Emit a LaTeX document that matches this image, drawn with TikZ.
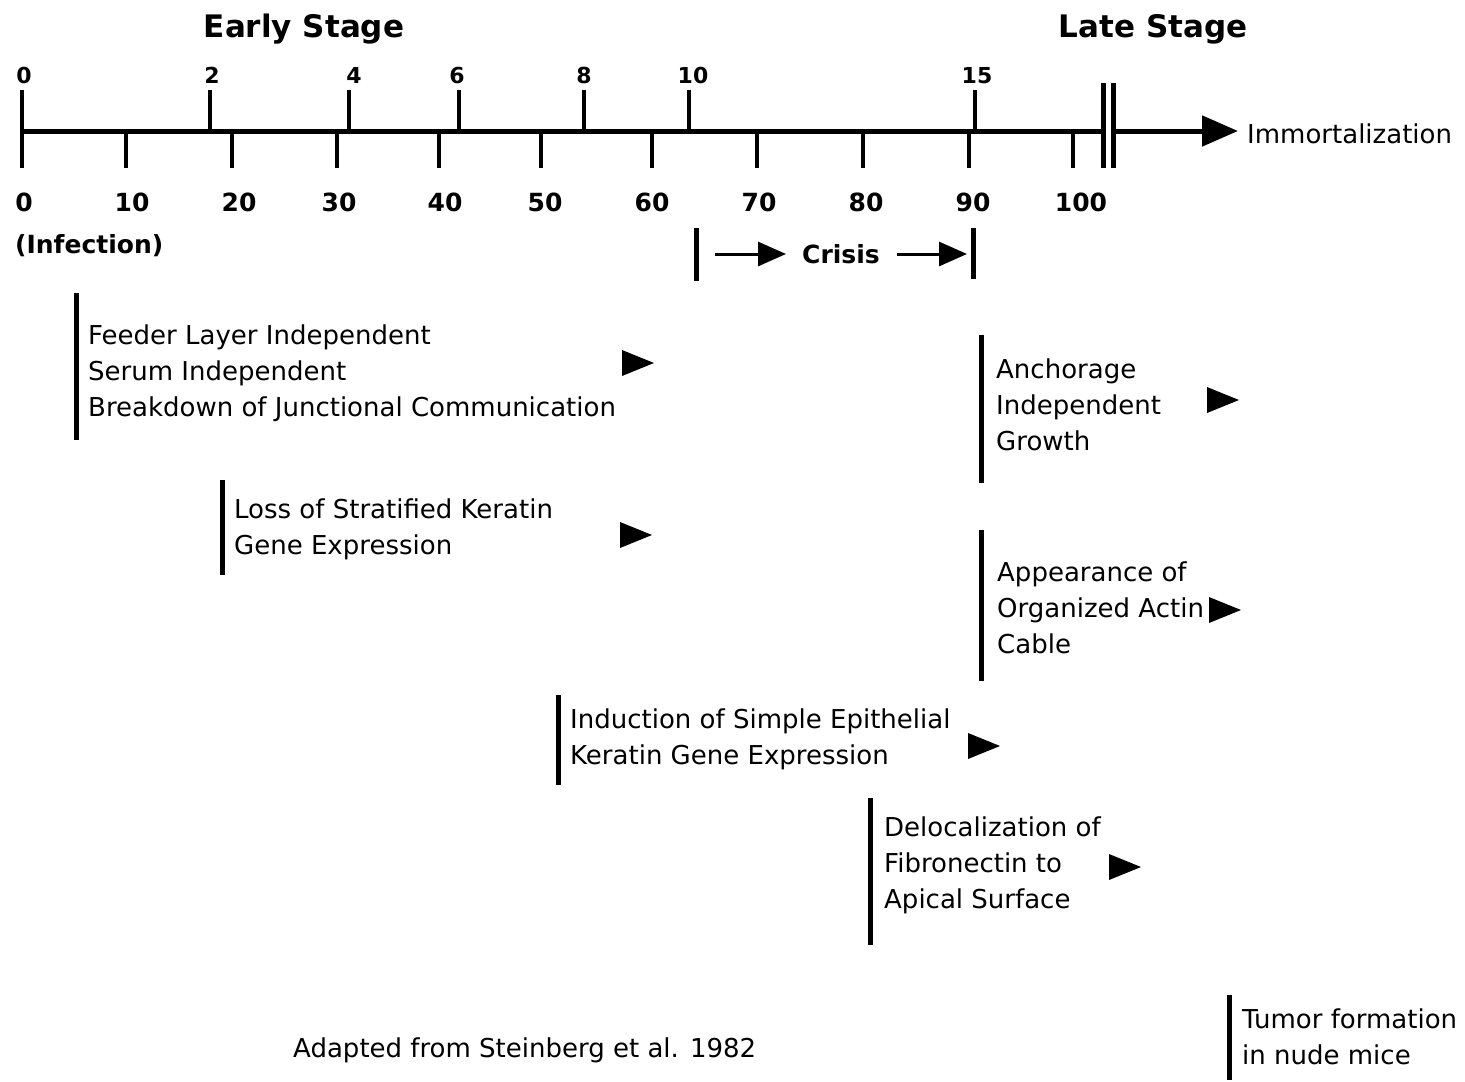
\documentclass[tikz,border=0pt]{standalone}
\usepackage{fontspec}
\setmainfont{DejaVu Sans}
\usetikzlibrary{arrows.meta}
\begin{document}
\begin{tikzpicture}[x=1pt,y=-1pt,
  bar/.style={line width=5pt},
  tickline/.style={line width=3.5pt},
  axisline/.style={line width=5pt},
  body/.style={anchor=west, align=left, inner sep=0pt, font=\fontsize{26}{36}\selectfont},
  toplab/.style={anchor=base, inner sep=0pt, font=\fontsize{22}{26}\selectfont\bfseries},
  botlab/.style={anchor=base, inner sep=0pt, font=\fontsize{25}{30}\selectfont\bfseries},
  stagelab/.style={anchor=base, inner sep=0pt, font=\fontsize{31}{36}\selectfont\bfseries},
  crisarrow/.style={line width=3pt, -{Triangle[length=28pt,width=24pt]}},
  tri/.style={fill=black},
]
\useasboundingbox (0,0) rectangle (1465,1082);

% stage titles
\node[stagelab] (early) at (304,37) {Early Stage};
\node[stagelab] (late) at (1153,37) {Late Stage};

% axis
\coordinate (a0) at (22,131);
\coordinate (brkA) at (1103,131);
\coordinate (brkB) at (1113,131);
\coordinate (tip) at (1238,131);
\draw[axisline] (a0) -- (brkA);
\draw[axisline, -{Triangle[length=36pt,width=30pt]}] (brkB) -- (tip);
\draw[bar] (1103,83) -- (1103,168);
\draw[bar] (1113,83) -- (1113,168);
\node[anchor=base west, inner sep=0pt, font=\fontsize{26}{30}\selectfont] (imm) at (1247,143) {Immortalization};

% zero tick
\draw[tickline] (22,90) -- (22,168);

% top ticks and labels
\foreach \x/\lx/\t [count=\i] in {210/212/2, 349/354/4, 459/457/6, 584/584/8, 689/693/10, 975/977/15}{
  \draw[tickline] (\x,90) -- (\x,131);
  \node[toplab] (top\i) at (\lx,83) {\t};
}
\node[toplab] (top0) at (24,83) {0};

% bottom ticks and labels
\foreach \x/\lx/\t [count=\i] in {126/132/10, 232/239/20, 337/339/30, 439/445/40, 541/545/50, 652/652/60, 757/759/70, 863/866/80, 969/973/90, 1073/1081/100}{
  \draw[tickline] (\x,131) -- (\x,168);
  \node[botlab] (bot\i) at (\lx,211) {\t};
}
\node[botlab] (bot0) at (24,211) {0};
\node[botlab, anchor=base west] (infection) at (15,253) {(Infection)};

% crisis
\draw[bar] (696,228) -- (696,281);
\draw[bar] (973,228) -- (973,279);
\node[botlab] (crisis) at (841,263) {Crisis};
\coordinate (c1s) at (715,254);
\coordinate (c1e) at (786,254);
\coordinate (c2s) at (897,254);
\coordinate (c2e) at (967,254);
\draw[crisarrow] (c1s) -- (c1e);
\draw[crisarrow] (c2s) -- (c2e);

% block 1
\draw[bar] (76,293) -- (76,440);
\node[body] (b1) at (88,373) {\strut Feeder Layer Independent\\\strut Serum Independent\\\strut Breakdown of Junctional Communication};
\fill[tri] (622,350) -- (654,363) -- (622,376) -- cycle;

% block 2
\draw[bar] (222,480) -- (222,575);
\node[body] (b2) at (234,529) {\strut Loss of Stratified Keratin\\\strut Gene Expression};
\fill[tri] (620,522) -- (652,535) -- (620,548) -- cycle;

% block 3
\draw[bar] (981,335) -- (981,483);
\node[body] (b3) at (996,407) {\strut Anchorage\\\strut Independent\\\strut Growth};
\fill[tri] (1207,387) -- (1239,400) -- (1207,413) -- cycle;

% block 4
\draw[bar] (981,530) -- (981,681);
\node[body] (b4) at (997,610) {\strut Appearance of\\\strut Organized Actin\\\strut Cable};
\fill[tri] (1209,597) -- (1241,610) -- (1209,623) -- cycle;

% block 5
\draw[bar] (558,695) -- (558,785);
\node[body] (b5) at (570,739) {\strut Induction of Simple Epithelial\\\strut Keratin Gene Expression};
\fill[tri] (968,733) -- (1000,746) -- (968,759) -- cycle;

% block 6
\draw[bar] (870,798) -- (870,945);
\node[body] (b6) at (884,865) {\strut Delocalization of\\\strut Fibronectin to\\\strut Apical Surface};
\fill[tri] (1109,854) -- (1141,867) -- (1109,880) -- cycle;

% block 7
\draw[bar] (1229,995) -- (1229,1080);
\node[body] (b7) at (1242,1039) {\strut Tumor formation\\\strut in nude mice};

% source
\node[body] (src) at (293,1050) {\strut Adapted from Steinberg et al. 1982};
\end{tikzpicture}
\end{document}
